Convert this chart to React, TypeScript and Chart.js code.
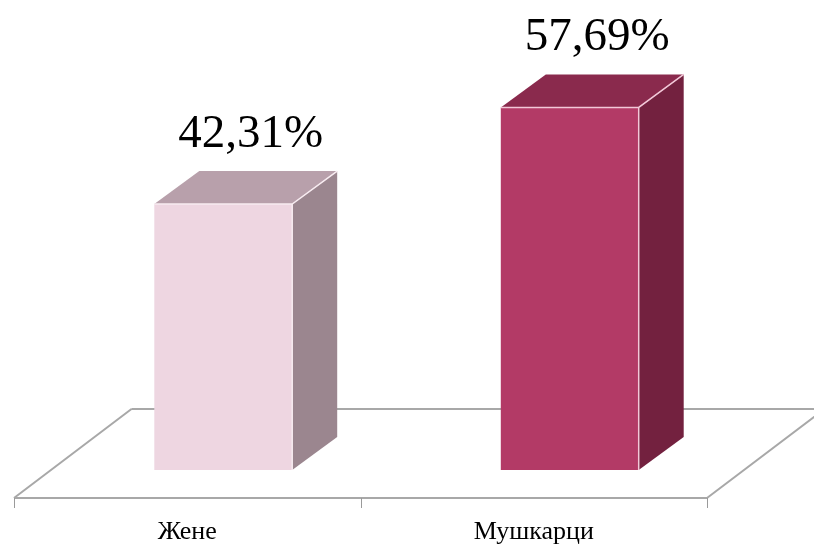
import React, { useEffect, useRef } from "react";
import { Chart, registerables } from "chart.js";

Chart.register(...registerables);

const categories = ["Жене", "Мушкарци"];
const values = [42.31, 57.69];
const valueLabels = ["42,31%", "57,69%"];
const frontColors = ["#EED6E1", "#B33A66"];
const sideColors = ["#9B868F", "#73213F"];
const topColors = ["#B8A0AB", "#8A2A4D"];
const edgeColors = ["#F8ECF1", "#F2C8D8"];

const DEPTH_DX = 45;
const DEPTH_DY = 33;
const BAR_SHIFT = 36;
const FLOOR_FRONT = 28;
const FLOOR_BACK = 61;
const FLOOR_SLOPE = 1.32;

const bar3dPlugin = {
  id: "bar3d",
  beforeDatasetsDraw(chart: any) {
    const ctx = chart.ctx;
    const xs = chart.scales.x;
    const ys = chart.scales.y;
    const base = ys.getPixelForValue(0);
    const frontY = base + FLOOR_FRONT;
    const backY = base - FLOOR_BACK;
    const left = xs.left;
    const right = xs.right;
    const dxFloor = (FLOOR_FRONT + FLOOR_BACK) * FLOOR_SLOPE;
    ctx.save();
    ctx.strokeStyle = "#A8A8A8";
    ctx.lineWidth = 2;
    ctx.beginPath();
    ctx.moveTo(left + dxFloor, backY);
    ctx.lineTo(right + dxFloor, backY);
    ctx.moveTo(left, frontY);
    ctx.lineTo(left + dxFloor, backY);
    ctx.moveTo(right, frontY);
    ctx.lineTo(right + dxFloor, backY);
    ctx.moveTo(left, frontY);
    ctx.lineTo(right, frontY);
    ctx.stroke();
    ctx.lineWidth = 1;
    ctx.strokeStyle = "#9A9A9A";
    ctx.beginPath();
    for (let i = 0; i <= categories.length; i++) {
      const px = Math.round(xs.getPixelForValue(i - 0.5)) + 0.5;
      ctx.moveTo(px, frontY);
      ctx.lineTo(px, frontY + 10);
    }
    ctx.stroke();
    ctx.restore();
  },
  afterDatasetsDraw(chart: any) {
    const ctx = chart.ctx;
    const meta = chart.getDatasetMeta(0);
    ctx.save();
    meta.data.forEach((el: any, i: number) => {
      const w = el.width;
      const l = el.x - w / 2 + BAR_SHIFT;
      const r = l + w;
      const t = el.y;
      const b = el.base;
      // side
      ctx.fillStyle = sideColors[i];
      ctx.beginPath();
      ctx.moveTo(r, t);
      ctx.lineTo(r + DEPTH_DX, t - DEPTH_DY);
      ctx.lineTo(r + DEPTH_DX, b - DEPTH_DY);
      ctx.lineTo(r, b);
      ctx.closePath();
      ctx.fill();
      // top
      ctx.fillStyle = topColors[i];
      ctx.beginPath();
      ctx.moveTo(l, t);
      ctx.lineTo(l + DEPTH_DX, t - DEPTH_DY);
      ctx.lineTo(r + DEPTH_DX, t - DEPTH_DY);
      ctx.lineTo(r, t);
      ctx.closePath();
      ctx.fill();
      // front
      ctx.fillStyle = frontColors[i];
      ctx.fillRect(l, t, w, b - t);
      // highlight edges
      ctx.strokeStyle = edgeColors[i];
      ctx.lineWidth = 1.5;
      ctx.beginPath();
      ctx.moveTo(l, t);
      ctx.lineTo(r, t);
      ctx.lineTo(r + DEPTH_DX, t - DEPTH_DY);
      ctx.moveTo(r, t);
      ctx.lineTo(r, b);
      ctx.stroke();
      // value label
      ctx.fillStyle = "#000000";
      ctx.font = "47px 'Liberation Serif', 'Times New Roman', serif";
      ctx.textAlign = "center";
      ctx.textBaseline = "alphabetic";
      ctx.fillText(valueLabels[i], (l + r + DEPTH_DX) / 2 + 5, t - DEPTH_DY - 24);
    });
    ctx.restore();
  },
};

export default function App() {
  const ref = useRef<HTMLCanvasElement | null>(null);
  useEffect(() => {
    document.body.style.margin = "0";
    const canvas = ref.current;
    if (!canvas) return;
    const chart = new Chart(canvas, {
      type: "bar",
      data: {
        labels: categories,
        datasets: [
          {
            data: values,
            backgroundColor: "rgba(0,0,0,0)",
            borderWidth: 0,
            barPercentage: 0.398,
            categoryPercentage: 1,
          },
        ],
      },
      options: {
        responsive: false,
        animation: false,
        devicePixelRatio: 1,
        layout: { padding: { left: 14, right: 107, top: 30, bottom: 0 } },
        plugins: { legend: { display: false }, tooltip: { enabled: false } },
        scales: {
          y: { display: false, min: 0, max: 70 },
          x: {
            grid: { display: false, drawTicks: false },
            border: { display: false },
            afterFit: (scale: any) => {
              scale.height = 74;
            },
            ticks: {
              padding: 47,
              color: "#000000",
              font: { family: "'Liberation Serif', 'Times New Roman', serif", size: 26 },
            },
          },
        },
      },
      plugins: [bar3dPlugin],
    });
    return () => chart.destroy();
  }, []);
  return (
    <div style={{ width: 814, height: 544, background: "#fff" }}>
      <canvas ref={ref} width={814} height={544} />
    </div>
  );
}
